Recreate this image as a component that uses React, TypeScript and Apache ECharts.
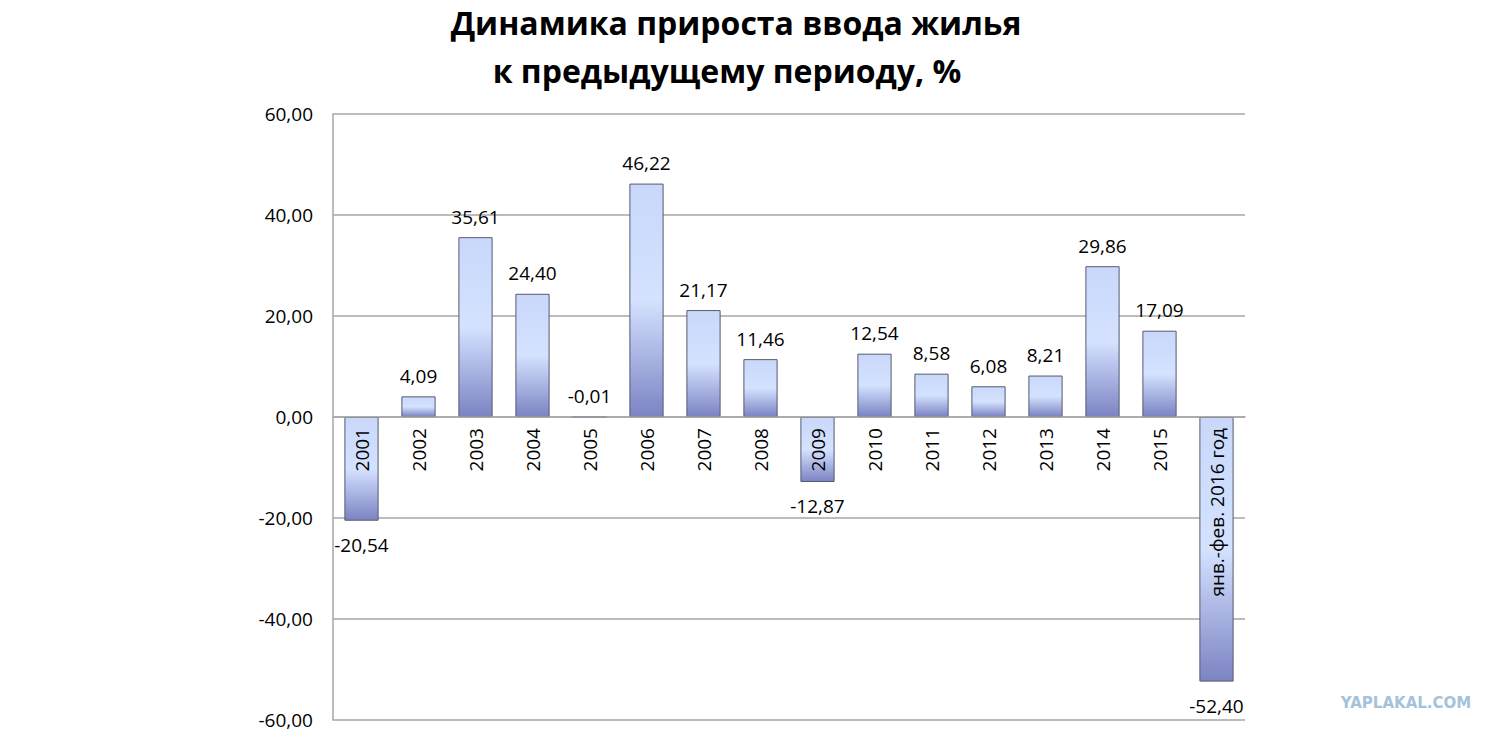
import React, { useEffect, useRef } from "react";
import * as echarts from "echarts";

const categories = [
  "2001", "2002", "2003", "2004", "2005", "2006", "2007", "2008",
  "2009", "2010", "2011", "2012", "2013", "2014", "2015", "янв.-фев. 2016 год",
];
const values = [
  -20.54, 4.09, 35.61, 24.4, -0.01, 46.22, 21.17, 11.46,
  -12.87, 12.54, 8.58, 6.08, 8.21, 29.86, 17.09, -52.4,
];
const titleLines = ["Динамика прироста ввода жилья", "к предыдущему периоду, %"];
const watermark = "YAPLAKAL.COM";

const fmt = (v: number) => v.toFixed(2).replace(".", ",");
const FONT = '"Open Sans", "Noto Sans", sans-serif';

const GRID_TOP = 114;
const GRID_BOTTOM = 12;
const CHART_H = 732;
const Y_MIN = -60;
const Y_MAX = 60;

export default function App() {
  const ref = useRef<HTMLDivElement>(null);
  useEffect(() => {
    document.body.style.margin = "0";
    const chart = echarts.init(ref.current!, undefined, { renderer: "svg" });
    const gradient = new echarts.graphic.LinearGradient(0, 0, 0, 1, [
      { offset: 0, color: "#c9d8fa" },
      { offset: 0.5, color: "#d4e2ff" },
      { offset: 1, color: "#7c83c3" },
    ]);
    const plotH = CHART_H - GRID_TOP - GRID_BOTTOM;
    const zeroOffset = -plotH * (0 - Y_MIN) / (Y_MAX - Y_MIN);
    chart.setOption({
      animation: false,
      backgroundColor: "#ffffff",
      textStyle: { fontFamily: FONT },
      grid: {
        left: 333,
        right: 255,
        top: GRID_TOP,
        bottom: GRID_BOTTOM,
        containLabel: false,
        outerBoundsMode: "none",
      },
      graphic: [
        {
          type: "text",
          x: 736,
          y: 22,
          style: {
            text: titleLines[0],
            font: `bold 32px ${FONT}`,
            fill: "#000",
            textAlign: "center",
            textVerticalAlign: "middle",
          },
        },
        {
          type: "text",
          x: 727,
          y: 70,
          style: {
            text: titleLines[1],
            font: `bold 32px ${FONT}`,
            fill: "#000",
            textAlign: "center",
            textVerticalAlign: "middle",
          },
        },
        {
          type: "text",
          x: 1406,
          y: 703,
          style: {
            text: watermark,
            font: 'bold 15px "DejaVu Sans", sans-serif',
            fill: "#a3c2dc",
            textAlign: "center",
            textVerticalAlign: "middle",
          },
        },
      ],
      xAxis: {
        type: "category",
        data: categories,
        z: 5,
        position: "bottom",
        offset: zeroOffset,
        axisLine: { show: true, onZero: false, lineStyle: { color: "#a6a6a6", width: 1.5 } },
        axisTick: { show: false },
        axisLabel: {
          rotate: 90,
          margin: 11,
          interval: 0,
          color: "#000",
          fontSize: 19,
          fontFamily: FONT,
        },
        splitLine: { show: false },
      },
      yAxis: {
        type: "value",
        min: Y_MIN,
        max: Y_MAX,
        interval: 20,
        axisLine: { show: true, lineStyle: { color: "#a6a6a6", width: 1.5 } },
        axisTick: { show: false },
        splitLine: { show: true, lineStyle: { color: "#a6a6a6", width: 1.5 } },
        axisLabel: {
          formatter: (v: number) => fmt(v),
          color: "#000",
          fontSize: 19,
          margin: 20,
          fontFamily: FONT,
        },
      },
      series: [
        {
          type: "bar",
          barWidth: "60%",
          data: values.map((v) => ({
            value: v,
            label: {
              position: v < -1 ? "bottom" : "top",
              distance: v < -1 ? 15 : 11,
            },
          })),
          itemStyle: {
            color: gradient,
            borderColor: "#555a70",
            borderWidth: 1,
          },
          label: {
            show: true,
            formatter: (p: any) => fmt(p.value),
            color: "#000",
            fontSize: 19,
            fontFamily: FONT,
          },
        },
      ],
    });
    return () => chart.dispose();
  }, []);
  return <div ref={ref} style={{ width: 1500, height: 732 }} />;
}
